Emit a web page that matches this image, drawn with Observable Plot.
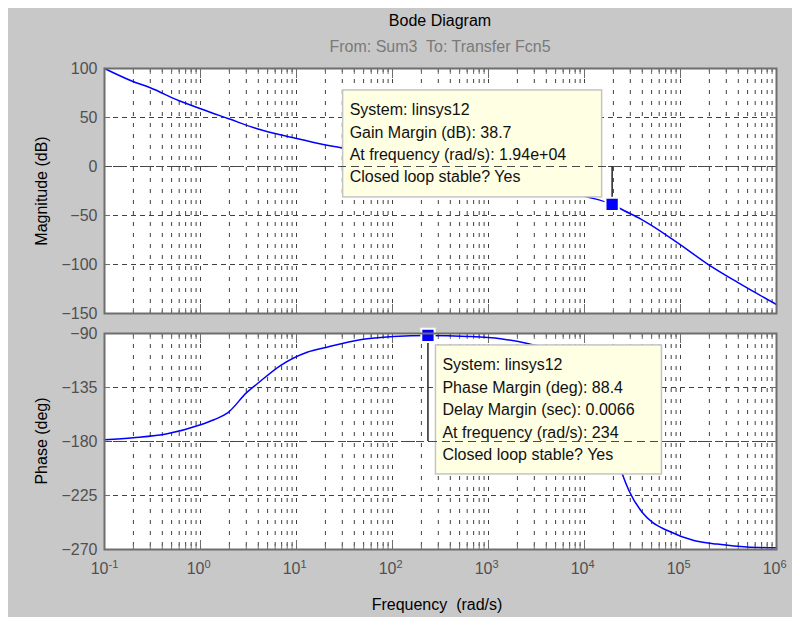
<!DOCTYPE html>
<html><head><meta charset="utf-8">
<script src="https://cdn.jsdelivr.net/npm/d3@7"></script>
<script src="https://cdn.jsdelivr.net/npm/@observablehq/plot@0.6"></script>
<style>
body{margin:0;background:#fff;font-family:"Liberation Sans",Arial,sans-serif;}
#fig{position:relative;width:800px;height:617px;background:#fff;overflow:hidden}
#bg{position:absolute;left:8px;top:8px;right:8px;bottom:0;background:#c8c8c8}
.lbl{position:absolute;white-space:nowrap;font-size:16px;transform:translate(-50%,-50%)}
.rot{transform:translate(-50%,-50%) rotate(-90deg)}
#p1,#p2{position:absolute;left:0}
#p1{top:0}#p2{top:320px}
</style></head><body>
<div id="fig"><div id="bg"></div>
<div class="lbl" style="left:440px;top:21px;color:#000">Bode Diagram</div>
<div class="lbl" style="left:440px;top:47px;color:#7a7a7a">From: Sum3&nbsp; To: Transfer Fcn5</div>
<div class="lbl rot" style="left:42px;top:191px;color:#000">Magnitude (dB)</div>
<div class="lbl rot" style="left:42px;top:441px;color:#000">Phase (deg)</div>
<div class="lbl" style="left:437px;top:605px;color:#000">Frequency&nbsp; (rad/s)</div>
<div id="p1"></div><div id="p2"></div>
</div>
<script>
// ---- data ----
const magFreq = [0.1, 0.195, 0.3, 0.59, 1, 1.97, 3.9, 9.3, 19, 29, 60, 120, 234, 600, 1500, 4000, 11000, 19400, 25700, 38300, 100000, 190000, 390000, 1000000];
const magDb   = [100, 87, 80.3, 67.3, 58.9, 48.7, 38.5, 29.3, 22.4, 19.1, 12.5, 6.2, 0, -7.6, -15.1, -23.1, -31.3, -38.7, -44.9, -53.4, -79.9, -99.3, -118, -140.8];
const phFreq  = [0.1, 0.2, 0.45, 1, 1.4, 1.9, 3.06, 3.9, 6.8, 12.9, 20.8, 46, 102, 234, 600, 1333, 2610, 5000, 8000, 12000, 16000, 19400, 24700, 29000, 39800, 50700, 73000, 138000, 240000, 490000, 1000000];
const phDeg   = [-178.6, -176.9, -173.6, -166.1, -161.7, -156.4, -138.9, -131.9, -116.7, -105.6, -101.4, -95.3, -92.5, -91.6, -92.4, -94.4, -98.6, -105, -118, -138, -160, -180, -206.9, -220.8, -238.9, -247.2, -254.2, -262.5, -265.5, -268, -268.6];
const magTicks = [100, 50, 0, -50, -100, -150];
const phTicks  = [-90, -135, -180, -225, -270];
const decadeTicks = [0.1, 1, 10, 100, 1000, 10000, 100000, 1000000];
const decadeExp   = ["-1", "0", "1", "2", "3", "4", "5", "6"];
const gainMargin  = {freq: 19400, mag: -38.7};
const phaseMargin = {freq: 234, phase: -91.6};
const gmText = ["System: linsys12", "Gain Margin (dB): 38.7", "At frequency (rad/s): 1.94e+04", "Closed loop stable? Yes"];
const pmText = ["System: linsys12", "Phase Margin (deg): 88.4", "Delay Margin (sec): 0.0066", "At frequency (rad/s): 234", "Closed loop stable? Yes"];

const magData = magFreq.map((f, i) => ({f, v: magDb[i]}));
const phData = phFreq.map((f, i) => ({f, v: phDeg[i]}));
const allXTicks = d3.scaleLog().domain([0.1, 1e6]).ticks();

const FONT = '"Liberation Sans", Arial, sans-serif';
const gridStroke = "#404040";
const axisStroke = "#6e6e6e";

function tipBox(fx, fy, lines, o) {
  return (index, scales) => {
    const px = scales.x(fx), py = scales.y(fy);
    const left = px + o.dx, top = py + o.dy;
    const g = d3.create("svg:g").attr("text-anchor", "start");
    g.append("rect").attr("x", left).attr("y", top).attr("width", o.w).attr("height", o.h)
      .attr("fill", "#ffffe4").attr("stroke", "#c4c4c4").attr("stroke-width", 1.5);
    lines.forEach((t, i) => {
      g.append("text").attr("x", left + 7).attr("y", top + 20 + i * o.lh)
        .attr("text-anchor", "start")
        .attr("dominant-baseline", "central").attr("fill", "#111")
        .attr("font-size", 16).attr("font-family", FONT).text(t);
    });
    return g.node();
  };
}

function commonMarks(yTicks) {
  return [
    Plot.frame({fill: "white"}),
    Plot.ruleX(allXTicks, {stroke: gridStroke, strokeDasharray: "4,7", strokeWidth: 1}),
    Plot.ruleY(yTicks, {stroke: gridStroke, strokeDasharray: "5,4", strokeWidth: 1}),
    Plot.axisX({anchor: "bottom", ticks: allXTicks, tickSize: -5, tickFormat: () => "", stroke: axisStroke, label: null}),
    Plot.axisX({anchor: "top", ticks: allXTicks, tickSize: -5, tickFormat: () => "", stroke: axisStroke, label: null}),
    Plot.axisX({anchor: "bottom", ticks: decadeTicks, tickSize: -9, tickFormat: () => "", stroke: axisStroke, label: null}),
    Plot.axisX({anchor: "top", ticks: decadeTicks, tickSize: -9, tickFormat: () => "", stroke: axisStroke, label: null}),
    Plot.axisY({anchor: "left", ticks: yTicks, tickSize: -6, tickPadding: 13, fill: "#505050", stroke: axisStroke, fontSize: 16, label: null}),
    Plot.axisY({anchor: "right", ticks: yTicks, tickSize: -6, tickFormat: () => "", stroke: axisStroke, label: null})
  ];
}

const p1 = Plot.plot({
  width: 800, height: 320,
  marginTop: 68, marginBottom: 7, marginLeft: 104, marginRight: 24,
  style: {background: "transparent", fontFamily: FONT, fontSize: "16px", overflow: "visible"},
  x: {type: "log", domain: [0.1, 1e6]},
  y: {domain: [-150, 100]},
  marks: [
    ...commonMarks(magTicks),
    Plot.line(magData, {x: "f", y: "v", stroke: "#0000ff", strokeWidth: 1.5, curve: "monotone-x"}),
    tipBox(gainMargin.freq, gainMargin.mag, gmText, {dx: -269, dy: -114, w: 259, h: 107, lh: 22.3}),
    Plot.ruleY([0], {stroke: "#4a4a4a", strokeDasharray: "8,5", strokeWidth: 1.2}),
    Plot.ruleX([gainMargin], {x: "freq", y1: 0, y2: "mag", stroke: "#222", strokeWidth: 1.5}),
    Plot.dot([gainMargin], {x: "freq", y: "mag", symbol: "square", r: 7.5, fill: "#0000ff", stroke: "#fffff0", strokeWidth: 2}),
    Plot.frame({stroke: axisStroke, strokeWidth: 2})
  ]
});
document.getElementById("p1").append(p1);

const p2 = Plot.plot({
  width: 800, height: 297,
  marginTop: 13, marginBottom: 68, marginLeft: 104, marginRight: 24,
  style: {background: "transparent", fontFamily: FONT, fontSize: "16px", overflow: "visible"},
  x: {type: "log", domain: [0.1, 1e6]},
  y: {domain: [-270, -90]},
  marks: [
    ...commonMarks(phTicks),
    Plot.line(phData, {x: "f", y: "v", stroke: "#0000ff", strokeWidth: 1.5, curve: "monotone-x"}),
    tipBox(phaseMargin.freq, phaseMargin.phase, pmText, {dx: 8, dy: 10, w: 226, h: 129, lh: 22.4}),
    Plot.ruleY([-180], {stroke: "#4a4a4a", strokeDasharray: "8,5", strokeWidth: 1.2}),
    Plot.ruleX([phaseMargin], {x: "freq", y1: -180, y2: "phase", stroke: "#222", strokeWidth: 1.5}),
    Plot.dot([phaseMargin], {x: "freq", y: "phase", symbol: "square", r: 7.5, fill: "#0000ff", stroke: "#fffff0", strokeWidth: 2}),
    Plot.frame({stroke: axisStroke, strokeWidth: 2}),
    Plot.text(decadeTicks, {x: d => d, frameAnchor: "bottom", dy: 24, dx: 4, text: () => "10", textAnchor: "end", fill: "#505050", fontSize: 16}),
    Plot.text(decadeTicks, {x: d => d, frameAnchor: "bottom", dy: 18, dx: 4, text: (d, i) => decadeExp[i], textAnchor: "start", fill: "#505050", fontSize: 11})
  ]
});
document.getElementById("p2").append(p2);
</script>
</body></html>
